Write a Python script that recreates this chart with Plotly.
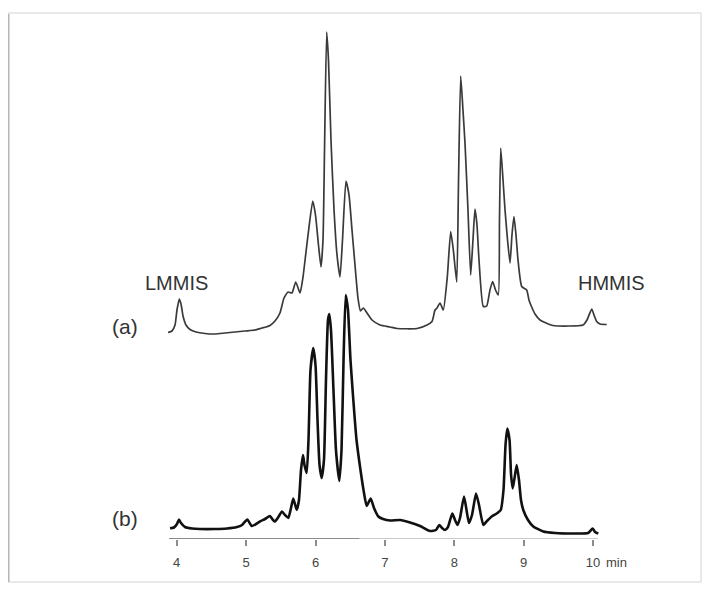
import plotly.graph_objects as go

# ---- data (retention time in min, detector signal in arbitrary units) ----
time_a = [3.875, 3.932, 3.976, 4.004, 4.037, 4.062, 4.091, 4.134, 4.192, 4.278,
          4.408, 4.552, 4.696, 4.840, 4.984, 5.128, 5.229, 5.287, 5.344, 5.416,
          5.488, 5.546, 5.604, 5.661, 5.715, 5.777, 5.820, 5.863, 5.896, 5.960,
          6.000, 6.043, 6.079, 6.108, 6.130, 6.161, 6.187, 6.223, 6.267, 6.310,
          6.353, 6.389, 6.439, 6.483, 6.526, 6.569, 6.612, 6.648, 6.689, 6.742,
          6.814, 6.929, 7.073, 7.174, 7.463, 7.607, 7.679, 7.722, 7.751, 7.794,
          7.841, 7.899, 7.948, 7.986, 8.035, 8.061, 8.092, 8.125, 8.154, 8.197,
          8.236, 8.269, 8.298, 8.327, 8.356, 8.418, 8.467, 8.514, 8.553, 8.594,
          8.634, 8.651, 8.669, 8.702, 8.731, 8.767, 8.803, 8.831, 8.860, 8.889,
          8.918, 8.971, 9.043, 9.076, 9.115, 9.163, 9.235, 9.422, 9.855, 9.912,
          9.980, 10.013, 10.052, 10.099, 10.196]
signal_a = [0.5, 2, 8, 23, 34, 29, 17, 8, 3.5, 1,
            -0.5, -1, 0, 1, 2, 3, 5, 6, 7.5, 12,
            20, 35, 41, 40, 51, 40, 56, 81, 100, 132,
            118, 88, 66, 93, 183, 301, 273, 193, 123, 78,
            56, 93, 152, 138, 103, 68, 35, 22, 25, 20,
            13, 8, 6, 4.5, 4.5, 8, 11.5, 23, 25, 30,
            23, 56, 101.5, 83, 51, 153, 257, 223, 190, 123,
            58, 93, 124, 108, 73, 26.5, 27, 43, 51.5, 43,
            38, 113, 185, 153, 123, 93, 70, 98, 116.5, 98,
            73, 46.5, 43, 33, 26, 19, 13, 7.5, 8, 13,
            24, 18, 11.5, 9, 8.5]

time_b = [3.904, 3.961, 4.004, 4.033, 4.062, 4.120, 4.220, 4.336, 4.552, 4.725,
          4.869, 4.941, 5.017, 5.081, 5.143, 5.200, 5.272, 5.344, 5.388, 5.416,
          5.474, 5.517, 5.561, 5.608, 5.647, 5.680, 5.729, 5.762, 5.791, 5.820,
          5.841, 5.873, 5.899, 5.928, 5.968, 6.000, 6.029, 6.058, 6.089, 6.122,
          6.151, 6.180, 6.199, 6.223, 6.259, 6.295, 6.343, 6.375, 6.404, 6.435,
          6.468, 6.504, 6.545, 6.591, 6.641, 6.692, 6.738, 6.795, 6.843, 6.905,
          6.973, 7.073, 7.218, 7.362, 7.506, 7.650, 7.736, 7.784, 7.823, 7.866,
          7.909, 7.971, 8.010, 8.046, 8.082, 8.140, 8.176, 8.212, 8.255, 8.313,
          8.356, 8.418, 8.471, 8.539, 8.611, 8.669, 8.709, 8.738, 8.764, 8.796,
          8.818, 8.842, 8.868, 8.899, 8.932, 8.961, 8.994, 9.062, 9.138, 9.282,
          9.451, 9.715, 9.927, 9.994, 10.027, 10.075]
signal_b = [10.7, 11.5, 15, 19.5, 16, 12, 10.5, 10, 10, 10.5,
            12, 14, 19.5, 13, 15, 17.5, 20, 23, 19, 17.5,
            23, 27.5, 24, 21, 31, 40.5, 29, 39, 69, 84,
            74, 66, 99, 169, 191, 174, 119, 74, 61, 79,
            159, 219, 225, 209, 149, 89, 58, 89, 179, 244,
            229, 179, 139, 99, 72.5, 49, 33, 40.5, 31, 22.5,
            20, 18.5, 19, 16.5, 13, 8, 9, 14, 11, 9,
            12, 25.5, 19, 14, 21, 42.5, 29, 16, 24, 45.5,
            34, 14, 18, 22.5, 25.5, 29, 49, 94, 110.5, 99,
            64, 50.5, 61, 74, 59, 39, 29, 19, 12.5, 7.5,
            6, 5.5, 6, 10.5, 7, 5.5]

tick_vals = [4, 5, 6, 7, 8, 9, 10]
tick_text = ["4", "5", "6", "7", "8", "9", "10"]
trace_labels = ["(a)", "(b)"]
standard_labels = ["LMMIS", "HMMIS"]
standard_times = [3.99, 10.258]

# ---- layout constants (page has an 8px body margin) ----
PAGE = 8
W, H = 710 - PAGE, 590 - PAGE
ML, MT = 160 - PAGE, 20 - PAGE
PLOT_W, PLOT_H = 455, 519
MR = W - ML - PLOT_W
MB = H - MT - PLOT_H
PX_PER_MIN = 69.4
OFFSET_A = 206
FONT = "Liberation Sans, Arial, sans-serif"

x0 = 4 - (176.7 - 160) / PX_PER_MIN
x1 = x0 + PLOT_W / PX_PER_MIN


def px_to_paper_x(px):
    return (px - 160) / PLOT_W


def py_to_paper_y(py):
    return (539 - py) / PLOT_H


fig = go.Figure()
fig.add_trace(go.Scatter(x=time_a, y=[v + OFFSET_A for v in signal_a], mode="lines",
                         line=dict(color="#3a3a3a", width=1.7, shape="spline", smoothing=0.5),
                         showlegend=False, hoverinfo="skip"))
fig.add_trace(go.Scatter(x=time_b, y=signal_b, mode="lines",
                         line=dict(color="#111111", width=2.6, shape="spline", smoothing=0.5),
                         showlegend=False, hoverinfo="skip"))

# axis line (darker left part, lighter right part)
fig.add_shape(type="line", xref="x", yref="y", x0=3.889, x1=10.072, y0=0, y1=0,
              line=dict(color="#b8b8b8", width=1.5), layer="below")
fig.add_shape(type="line", xref="x", yref="y", x0=3.889, x1=6.63, y0=0, y1=0,
              line=dict(color="#8c8c8c", width=2), layer="below")

# frame around the picture
fig.add_shape(type="rect", xref="paper", yref="paper",
              x0=px_to_paper_x(8), x1=px_to_paper_x(701),
              y0=py_to_paper_y(582), y1=py_to_paper_y(13),
              line=dict(color="#e2e2e2", width=1.5), layer="below")
fig.add_shape(type="line", xref="paper", yref="paper",
              x0=px_to_paper_x(8), x1=px_to_paper_x(8),
              y0=py_to_paper_y(582), y1=py_to_paper_y(14),
              line=dict(color="#b5b5b5", width=3), layer="below")

for lbl, t in zip(standard_labels, standard_times):
    fig.add_annotation(x=t, y=539 - 283, xref="x", yref="y", text=lbl, showarrow=False,
                       xanchor="center", yanchor="middle",
                       font=dict(family=FONT, size=20, color="#333333"))

for lbl, py in zip(trace_labels, [326, 518]):
    fig.add_annotation(x=px_to_paper_x(125), y=py_to_paper_y(py), xref="paper", yref="paper",
                       text=lbl, showarrow=False, xanchor="center", yanchor="middle",
                       font=dict(family=FONT, size=21, color="#333333"))

fig.add_annotation(x=px_to_paper_x(604), y=py_to_paper_y(562), xref="paper", yref="paper",
                   text="min", showarrow=False, xanchor="left", yanchor="middle",
                   font=dict(family=FONT, size=13, color="#444444"))

fig.update_layout(
    width=W, height=H,
    margin=dict(l=ML, r=MR, t=MT, b=MB),
    paper_bgcolor="white", plot_bgcolor="white",
    xaxis=dict(range=[x0, x1], tickvals=tick_vals, ticktext=tick_text,
               ticks="outside", ticklen=6, tickcolor="#8c8c8c", tickwidth=1.5,
               ticklabelstandoff=5,
               showline=False, showgrid=False, zeroline=False,
               tickfont=dict(family=FONT, size=13, color="#444444")),
    yaxis=dict(range=[0, PLOT_H], visible=False, showgrid=False, zeroline=False),
)

fig.write_html("out.html")
